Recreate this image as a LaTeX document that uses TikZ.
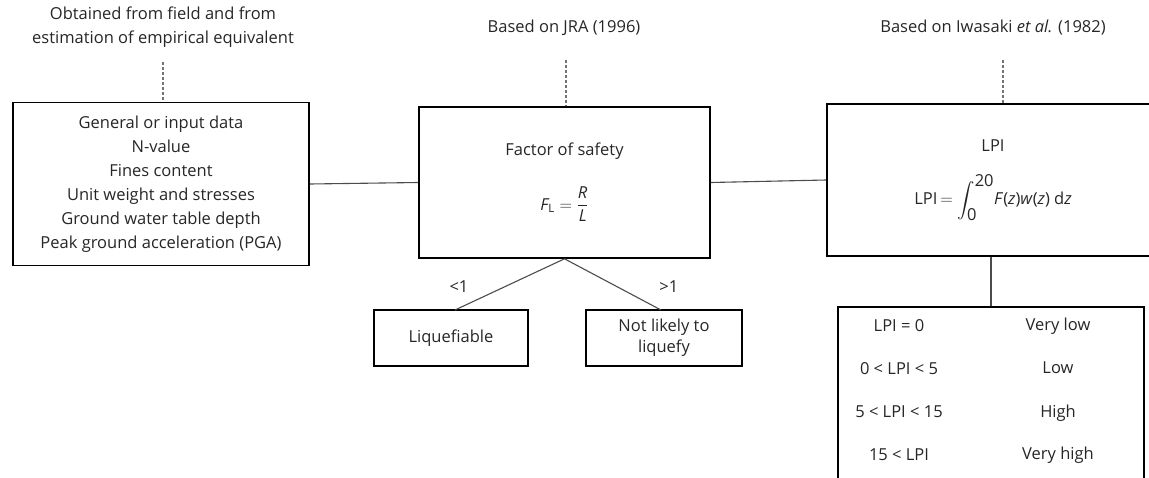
\documentclass[tikz,border=0pt]{standalone}
\usepackage{fontspec}
\usepackage{amsmath}
\setmainfont{Open Sans}
\begin{document}
\begin{tikzpicture}[x=1pt,y=-1pt,font=\fontsize{16.5}{24}\selectfont,
  box/.style={draw,line width=1.6pt,rectangle,align=center,inner sep=0pt,text=black!85},
  link/.style={line width=1.1pt,black!70},
  ref/.style={line width=1.1pt,black!55,dash pattern=on 3pt off 2pt},
  note/.style={align=center,text=black!85}]
\useasboundingbox (0,0) rectangle (1149,477);
\clip (0,0) rectangle (1149,477);
\node[box,minimum width=296pt,minimum height=163pt] (Data) at (161,184) {General or input data\\N-value\\Fines content\\Unit weight and stresses\\Ground water table depth\\Peak ground acceleration (PGA)};
\node[box,minimum width=291pt,minimum height=151pt] (FS) at (564.5,182.5) {Factor of safety\\[26pt]$\textit{F}_{\text{L}}=\dfrac{\textit{R}}{\textit{L}}$};
\node[box,minimum width=332pt,minimum height=152pt] (LPI) at (993,180) {LPI\\[22pt]LPI\,$=\displaystyle\int_{\mbox{0}}^{\mbox{20}}$\textit{F}(\textit{z})\textit{w}(\textit{z}) d\textit{z}};
\node[box,minimum width=154pt,minimum height=56pt] (Liq) at (451,338) {Liquefiable};
\node[box,minimum width=156pt,minimum height=56pt,font=\fontsize{16.5}{21}\selectfont] (NotLiq) at (664,338) {Not likely to\\liquefy};
\node[box,minimum width=306pt,minimum height=200pt,anchor=north] (Risk) at (991,306) {};
\node[note] (SrcData) at (163,27) {Obtained from field and from\\estimation of empirical equivalent};
\node[note] (SrcFS) at (564,28) {Based on JRA (1996)};
\node[note] (SrcLPI) at (993,28) {Based on Iwasaki \textit{et al.} (1982)};
\node[note] (R0a) at (899,326) {LPI = 0};
\node[note] (R0b) at (1058,326) {Very low};
\node[note] (R1a) at (899,369) {0 < LPI < 5};
\node[note] (R1b) at (1058,368) {Low};
\node[note] (R2a) at (899,412) {5 < LPI < 15};
\node[note] (R2b) at (1058,413) {High};
\node[note] (R3a) at (899,455) {15 < LPI};
\node[note] (R3b) at (1058,455) {Very high};
\coordinate (DataTop) at (163,62);
\coordinate (FSTop) at (566,60);
\coordinate (LPITop) at (1003,60);
\coordinate (LiqTop) at (455,310);
\coordinate (NotTop) at (661,310);
\draw[ref] (DataTop) -- (Data.north -| DataTop);
\draw[ref] (FSTop) -- (FS.north -| FSTop);
\draw[ref] (LPITop) -- (LPI.north -| LPITop);
\draw[link] (Data.east) -- (FS.west);
\draw[link] (FS.east) -- (LPI.west);
\draw[link] (FS.south) -- node[pos=0.55,left=32pt,black!85]{<1} (LiqTop);
\draw[link] (FS.south) -- node[pos=0.55,right=38pt,black!85]{>1} (NotTop);
\draw[link] (LPI.south -| Risk.north) -- (Risk.north);
\end{tikzpicture}
\end{document}
